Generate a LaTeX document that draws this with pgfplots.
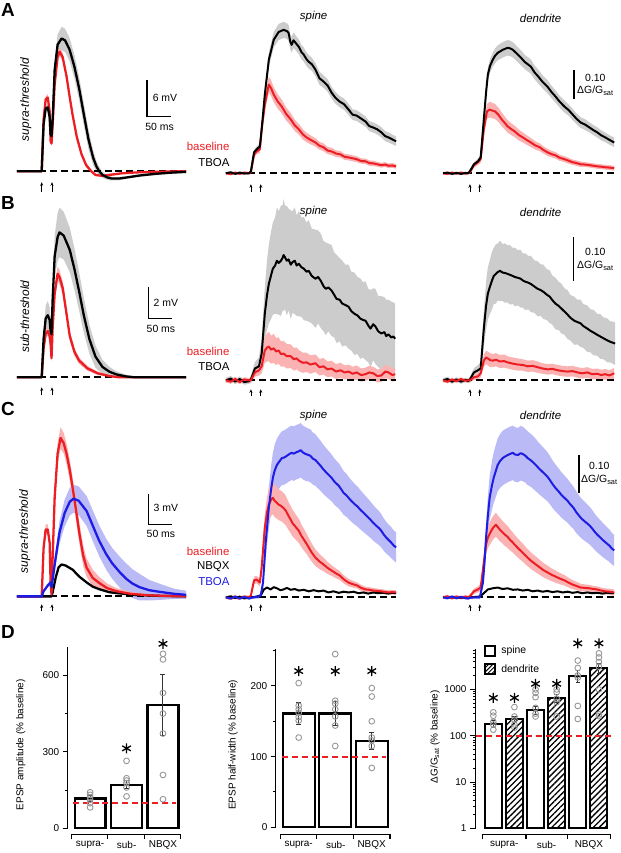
\documentclass[border=0pt]{standalone}
\usepackage{fontspec}
\setmainfont{Liberation Sans}
\usepackage{pgfplots}
\pgfplotsset{compat=1.18}
\usepackage{pgfplotstable}
\usepgfplotslibrary{fillbetween}
\usetikzlibrary{arrows.meta,patterns.meta}

\definecolor{myred}{RGB}{236,30,36}
\definecolor{pinkband}{RGB}{250,178,178}
\definecolor{greyband}{RGB}{204,204,204}
\definecolor{myblue}{RGB}{28,28,228}
\definecolor{blueband}{RGB}{186,186,246}
\definecolor{circ}{RGB}{150,150,150}

\newcommand\fs[1]{\fontsize{#1}{#1}\selectfont}
\newcommand\band[3]{%
  \addplot[name path=#3u, draw=none, forget plot] table[x=t, y expr=\thisrow{m}+\thisrow{e}] {#1};
  \addplot[name path=#3l, draw=none, forget plot] table[x=t, y expr=\thisrow{m}-\thisrow{e}] {#1};
  \addplot[fill=#2, draw=none, forget plot] fill between[of=#3u and #3l];
}
\newcommand\trace[3][2.3pt]{\addplot[#2, line width=#1, line join=round, no marks] table[x=t,y=m] {#3};}
\pgfplotsset{trace/.style={scale only axis, hide axis, clip=false, anchor=north west},
  bars/.style={scale only axis, anchor=north west, clip=false, axis y line*=left, axis x line=none,
    xtick=\empty, tick align=outside, major tick length=5pt, minor tick length=3pt,
    axis line style={line width=1.1pt}, every tick/.style={line width=1pt, black},
    yticklabel style={font=\fs{10}}}}

% ---------------- left traces (t in ms, V in mV) ----------------
\pgfplotstableread{
t m e
-53 0 0.1
-2 0 0.1
0 0 0.1
4 7.6 0.4
8.5 10.2 0.5
13 10.4 0.5
17 8.8 0.5
19 6.0 0.4
21 5.7 0.4
23.4 8.4 0.6
27.7 16.5 1.2
34 20.6 1.7
42.5 21.6 1.9
50 21.3 1.9
59.6 19.8 1.9
70 17.0 1.9
80 13.5 1.9
90 9.3 1.8
100 5.2 1.6
110 2.2 1.2
117 0.8 0.9
123 0 0.7
130 -0.6 0.5
140 -1.0 0.4
150 -1.2 0.3
165 -1.2 0.3
183 -1.0 0.2
209 -0.7 0.2
240 -0.45 0.2
272 -0.25 0.2
309 -0.1 0.2
}\tALk
\pgfplotstableread{
t m e
-53 0 0.1
-2 0 0.1
0 0 0.1
4 8.4 0.4
8.5 11.7 0.5
13 12.0 0.5
17 9.7 0.4
19 4.9 0.3
21 4.5 0.3
23.4 7.6 0.4
27.7 14.1 0.6
34 18.6 0.7
38.3 19.45 0.7
44.7 18.6 0.7
53 15.5 0.6
60 12.0 0.5
66 9.2 0.5
75 5.6 0.4
85 2.8 0.3
95 1.0 0.3
106 0 0.2
115 -0.6 0.2
129 -0.75 0.2
145 -0.6 0.2
170 -0.35 0.1
200 -0.2 0.1
240 -0.1 0.1
309 0 0.1
}\tALr
\pgfplotstableread{
t m e
-53 0 0.03
-2 0 0.03
0 0 0.05
4 2.4 0.4
8.5 3.7 0.8
13 3.9 0.9
17 3.6 0.8
19 2.9 0.6
21 2.7 0.5
23.4 4.9 0.8
27.7 7.6 1.3
34 8.8 1.5
38 9.1 1.55
47 8.9 1.5
60 8.0 1.4
70 6.8 1.3
80 5.4 1.2
90 3.9 1.1
102 2.4 0.9
115 1.3 0.7
130 0.65 0.45
145 0.35 0.3
160 0.18 0.2
180 0.06 0.1
200 0 0.05
309 0 0.05
}\tBLk
\pgfplotstableread{
t m e
-53 0 0.03
-2 0 0.03
0 0 0.05
4 1.8 0.2
8.5 2.75 0.3
13 2.9 0.3
17 2.6 0.3
19 2.1 0.2
21 1.2 0.2
23.4 3.1 0.3
27.7 5.25 0.4
34 6.5 0.45
38 6.3 0.45
45 5.6 0.4
53 4.0 0.35
60 2.6 0.3
70 1.6 0.25
80 1.05 0.2
98 0.56 0.15
120 0.25 0.1
145 0.08 0.05
166 0 0.03
309 0 0.03
}\tBLr
\pgfplotstableread{
t m e
-53 0 0.1
-2 0 0.1
0 0 0.1
4 4.7 0.4
8.5 6.5 0.5
13 6.5 0.5
17 5.2 0.4
19 1.35 0.2
21 0.2 0.1
23.4 3.8 0.5
27.7 9.6 0.9
34 13.9 1.0
40.4 15.4 1.05
47 14.9 1.0
53 13.9 1.0
60 12.3 1.0
66 10.6 1.0
74 8.2 1.0
81 6.0 1.0
89 3.9 1.0
96 2.8 0.9
109 1.8 0.8
123 1.3 0.6
140 0.8 0.45
160 0.5 0.3
190 0.25 0.2
230 0.1 0.1
309 0 0.1
}\tCLr
\pgfplotstableread{
t m e
-53 0 0.05
-2 0 0.05
0 0 0.05
4 0.5 0.1
13 1.06 0.2
19 1.35 0.25
21 0.9 0.2
23.4 1.65 0.3
30 3.8 0.7
38 6.2 1.1
49 8.1 1.3
60 9.2 1.35
68 9.5 1.36
79 9.3 1.4
96 8.3 1.45
109 6.9 1.5
123 5.4 1.5
138 4.1 1.5
151 3.2 1.5
166 2.4 1.5
181 1.7 1.5
194 1.25 1.4
209 0.9 1.3
230 0.6 1.0
251 0.45 0.8
283 0.25 0.5
309 0.15 0.4
}\tCLb
\pgfplotstableread{
t m
-53 0
0 0
21 0
23.4 0.4
30 1.84
36 2.8
42.5 3.1
51 3.0
66 2.6
81 1.9
96 1.36
109 0.95
123 0.7
145 0.4
166 0.3
198 0.15
250 0.05
309 0
}\tCLk

% ---------------- imaging traces (t in ms, dG/Gsat) ----------------
\pgfplotstableread{
t m e
-56 0.000 0.004
-45 0.003 0.004
-35 -0.002 0.004
-25 0.002 0.004
-15 -0.001 0.004
-4 0.000 0.004
0 0.007 0.005
7 0.070 0.010
13 0.080 0.010
20 0.090 0.012
24 0.147 0.015
31 0.263 0.020
40 0.380 0.024
51 0.447 0.026
62 0.473 0.027
73 0.480 0.027
80 0.476 0.026
84 0.470 0.027
88 0.440 0.026
91 0.430 0.026
95 0.445 0.026
98 0.440 0.025
107 0.423 0.025
113 0.405 0.024
118 0.397 0.024
124 0.382 0.023
129 0.373 0.023
136 0.365 0.022
144 0.347 0.022
153 0.318 0.022
162 0.307 0.021
171 0.294 0.021
180 0.270 0.020
189 0.252 0.020
198 0.240 0.019
208 0.231 0.019
218 0.213 0.019
227 0.196 0.018
236 0.193 0.018
246 0.183 0.018
256 0.173 0.017
264 0.158 0.017
273 0.153 0.017
282 0.147 0.017
291 0.137 0.017
300 0.124 0.017
307 0.120 0.017
316 0.113 0.016
324 0.107 0.016
}\tASk
\pgfplotstableread{
t m e
-56 0.000 0.004
-45 -0.003 0.004
-35 0.002 0.004
-25 -0.002 0.004
-15 0.002 0.004
-4 0.000 0.004
0 0.003 0.005
7 0.063 0.010
13 0.073 0.010
20 0.080 0.012
24 0.147 0.018
31 0.230 0.024
40 0.297 0.026
45 0.285 0.026
51 0.263 0.025
60 0.240 0.024
69 0.223 0.023
78 0.200 0.022
89 0.180 0.021
98 0.160 0.019
107 0.147 0.018
116 0.130 0.017
124 0.120 0.016
133 0.112 0.015
144 0.103 0.014
153 0.092 0.013
162 0.087 0.013
171 0.076 0.012
180 0.073 0.012
190 0.066 0.011
200 0.063 0.011
209 0.055 0.010
218 0.053 0.010
227 0.050 0.010
236 0.047 0.010
246 0.041 0.009
256 0.040 0.009
264 0.034 0.009
273 0.033 0.009
282 0.030 0.008
291 0.027 0.008
300 0.029 0.008
307 0.025 0.008
316 0.026 0.008
324 0.023 0.008
}\tASr
\pgfplotstableread{
t m e
-60 0.000 0.004
-50 0.002 0.004
-40 -0.002 0.004
-30 0.001 0.004
-20 -0.002 0.004
-10 0.001 0.004
-4 0.000 0.004
0 0.007 0.005
9 0.030 0.008
18 0.040 0.009
24 0.053 0.010
31 0.180 0.016
36 0.270 0.020
40 0.330 0.022
45 0.360 0.023
51 0.380 0.024
56 0.393 0.025
62 0.403 0.025
73 0.413 0.026
84 0.420 0.026
90 0.418 0.026
96 0.413 0.026
107 0.397 0.025
115 0.385 0.025
122 0.373 0.024
129 0.365 0.024
136 0.357 0.024
144 0.338 0.023
153 0.323 0.023
162 0.306 0.022
173 0.290 0.022
182 0.272 0.021
191 0.257 0.021
200 0.240 0.020
211 0.223 0.020
220 0.212 0.019
229 0.197 0.019
238 0.182 0.018
247 0.170 0.018
258 0.162 0.018
267 0.153 0.017
276 0.144 0.017
284 0.137 0.017
293 0.127 0.017
302 0.120 0.016
311 0.112 0.016
322 0.103 0.016
}\tADk
\pgfplotstableread{
t m e
-60 0.000 0.004
-50 -0.002 0.004
-40 0.002 0.004
-30 -0.001 0.004
-20 0.002 0.004
-10 -0.001 0.004
-4 0.000 0.004
0 0.003 0.005
9 0.027 0.008
18 0.037 0.009
24 0.047 0.012
31 0.147 0.020
38 0.207 0.025
44 0.213 0.026
50 0.210 0.026
56 0.207 0.025
64 0.195 0.024
71 0.180 0.023
78 0.168 0.022
84 0.157 0.021
92 0.148 0.020
100 0.140 0.019
109 0.128 0.018
118 0.120 0.017
127 0.111 0.016
136 0.103 0.015
146 0.093 0.014
156 0.087 0.013
164 0.078 0.012
173 0.070 0.012
182 0.064 0.011
191 0.060 0.011
200 0.052 0.010
211 0.047 0.010
220 0.042 0.010
229 0.037 0.009
238 0.034 0.009
247 0.030 0.009
258 0.029 0.008
267 0.027 0.008
276 0.025 0.008
284 0.023 0.008
293 0.022 0.008
302 0.020 0.008
311 0.019 0.008
322 0.017 0.008
}\tADr
\pgfplotstableread{
t m e
-56 0.000 0.006
-45 0.004 0.006
-35 -0.003 0.006
-25 0.003 0.006
-15 -0.004 0.006
-4 -0.002 0.006
0 0.002 0.008
9 0.027 0.015
18 0.032 0.020
24 0.061 0.035
31 0.152 0.060
36 0.195 0.080
40 0.220 0.090
45 0.240 0.100
49 0.255 0.105
54 0.262 0.110
58 0.273 0.122
62 0.268 0.118
67 0.273 0.126
71 0.280 0.120
73 0.286 0.128
76 0.281 0.118
80 0.273 0.125
84 0.276 0.116
89 0.264 0.124
93 0.270 0.116
98 0.273 0.122
102 0.262 0.115
107 0.266 0.120
113 0.258 0.113
118 0.255 0.118
124 0.248 0.112
129 0.250 0.116
136 0.238 0.108
144 0.232 0.112
150 0.236 0.106
156 0.227 0.108
162 0.215 0.103
167 0.209 0.106
173 0.212 0.100
180 0.205 0.104
186 0.195 0.097
191 0.186 0.101
198 0.184 0.095
204 0.175 0.098
211 0.172 0.092
218 0.168 0.096
224 0.158 0.090
231 0.152 0.094
238 0.148 0.088
244 0.141 0.092
250 0.138 0.086
256 0.136 0.090
262 0.125 0.084
267 0.118 0.088
273 0.128 0.082
278 0.123 0.086
284 0.112 0.081
291 0.107 0.085
298 0.110 0.080
302 0.101 0.083
307 0.105 0.079
313 0.098 0.082
318 0.100 0.078
322 0.095 0.080
}\tBSk
\pgfplotstableread{
t m e
-56 0.000 0.005
-45 -0.003 0.005
-35 0.003 0.005
-25 -0.004 0.005
-15 0.002 0.005
-4 0.000 0.005
0 0.000 0.006
9 0.018 0.010
18 0.023 0.012
24 0.032 0.016
31 0.068 0.028
36 0.075 0.032
40 0.077 0.034
45 0.070 0.032
51 0.073 0.033
56 0.066 0.031
62 0.068 0.030
67 0.060 0.029
73 0.061 0.029
80 0.055 0.028
89 0.055 0.027
96 0.048 0.026
102 0.050 0.025
107 0.045 0.024
116 0.040 0.023
124 0.041 0.022
133 0.036 0.021
144 0.039 0.020
153 0.030 0.019
162 0.032 0.019
171 0.025 0.018
180 0.027 0.018
190 0.020 0.017
200 0.023 0.017
209 0.018 0.016
218 0.020 0.016
227 0.015 0.016
236 0.018 0.016
246 0.012 0.015
256 0.014 0.015
264 0.018 0.015
273 0.016 0.015
282 0.010 0.015
291 0.011 0.015
300 0.020 0.015
307 0.018 0.015
316 0.012 0.015
322 0.014 0.015
}\tBSr
\pgfplotstableread{
t m e
-60 0.000 0.005
-50 0.003 0.005
-40 -0.003 0.005
-30 0.002 0.005
-20 -0.003 0.005
-10 0.001 0.005
-4 -0.002 0.005
0 0.002 0.006
9 0.018 0.010
18 0.023 0.012
24 0.027 0.015
31 0.118 0.040
36 0.170 0.055
40 0.198 0.060
45 0.215 0.062
49 0.227 0.066
53 0.238 0.064
58 0.243 0.068
62 0.247 0.065
67 0.250 0.069
73 0.246 0.065
78 0.245 0.068
84 0.243 0.065
89 0.241 0.068
96 0.238 0.064
100 0.236 0.067
107 0.234 0.063
113 0.232 0.066
118 0.228 0.062
124 0.225 0.065
130 0.223 0.061
136 0.220 0.064
144 0.214 0.060
151 0.209 0.063
158 0.206 0.059
164 0.202 0.062
171 0.196 0.058
178 0.191 0.060
184 0.183 0.056
191 0.175 0.059
198 0.170 0.055
204 0.164 0.057
211 0.157 0.053
218 0.150 0.056
224 0.143 0.052
233 0.136 0.055
240 0.133 0.051
247 0.130 0.054
253 0.124 0.050
262 0.118 0.053
269 0.113 0.049
276 0.109 0.052
284 0.104 0.048
291 0.100 0.051
298 0.096 0.048
307 0.091 0.050
313 0.088 0.047
324 0.084 0.049
}\tBDk
\pgfplotstableread{
t m e
-60 0.000 0.004
-50 -0.003 0.004
-40 0.002 0.004
-30 -0.002 0.004
-20 0.003 0.004
-10 -0.001 0.004
-4 0.000 0.004
0 0.000 0.005
9 0.007 0.006
18 0.009 0.007
24 0.016 0.009
31 0.045 0.014
36 0.052 0.015
40 0.050 0.016
45 0.046 0.016
51 0.045 0.015
58 0.047 0.015
67 0.043 0.015
76 0.044 0.015
84 0.041 0.014
96 0.038 0.014
107 0.036 0.014
118 0.035 0.013
129 0.032 0.013
140 0.033 0.013
151 0.030 0.013
162 0.027 0.012
173 0.025 0.012
184 0.026 0.012
196 0.023 0.012
207 0.021 0.012
218 0.020 0.012
229 0.021 0.012
240 0.018 0.012
251 0.016 0.012
262 0.018 0.012
273 0.014 0.012
284 0.015 0.012
293 0.012 0.012
302 0.014 0.012
311 0.011 0.012
322 0.016 0.012
}\tBDr
\pgfplotstableread{
t m e
-56 0.000 0.004
-45 -0.003 0.004
-35 0.002 0.004
-27 -0.003 0.004
-15 0.002 0.004
-4 0.000 0.004
0 0.005 0.005
7 0.045 0.010
13 0.047 0.010
20 0.039 0.010
24 0.079 0.020
31 0.184 0.035
36 0.225 0.040
40 0.245 0.042
45 0.258 0.043
49 0.263 0.043
53 0.255 0.043
58 0.250 0.042
62 0.245 0.041
67 0.242 0.040
73 0.236 0.040
78 0.229 0.039
84 0.215 0.037
89 0.205 0.036
93 0.196 0.035
98 0.189 0.034
102 0.183 0.033
107 0.176 0.032
113 0.162 0.030
118 0.153 0.029
124 0.142 0.027
129 0.132 0.026
136 0.118 0.024
144 0.105 0.022
153 0.095 0.020
162 0.087 0.018
171 0.078 0.016
180 0.071 0.014
189 0.064 0.013
198 0.058 0.012
208 0.047 0.011
218 0.039 0.010
227 0.035 0.009
236 0.032 0.008
246 0.025 0.008
256 0.021 0.007
264 0.020 0.007
273 0.018 0.007
282 0.017 0.006
291 0.016 0.006
300 0.014 0.006
307 0.013 0.006
316 0.014 0.006
324 0.013 0.006
}\tCSr
\pgfplotstableread{
t m e
-56 0.000 0.004
-45 -0.003 0.004
-35 0.002 0.004
-25 -0.003 0.004
-15 0.001 0.004
-4 -0.003 0.004
0 -0.001 0.004
10 0.001 0.004
18 0.002 0.005
22 0.005 0.006
27 0.039 0.015
33 0.145 0.040
40 0.237 0.055
45 0.285 0.062
49 0.316 0.066
53 0.335 0.068
58 0.350 0.070
64 0.360 0.071
69 0.368 0.071
75 0.370 0.072
80 0.374 0.072
86 0.379 0.072
91 0.382 0.072
96 0.380 0.072
102 0.384 0.072
107 0.386 0.072
111 0.389 0.072
116 0.383 0.071
122 0.379 0.071
127 0.377 0.070
133 0.374 0.070
138 0.367 0.069
144 0.363 0.068
150 0.355 0.067
156 0.347 0.066
162 0.338 0.065
169 0.329 0.064
175 0.322 0.063
180 0.316 0.062
187 0.305 0.061
196 0.295 0.060
202 0.285 0.059
207 0.276 0.058
213 0.270 0.057
218 0.263 0.056
224 0.255 0.055
231 0.247 0.054
238 0.240 0.053
244 0.232 0.052
250 0.225 0.051
256 0.218 0.050
262 0.211 0.049
267 0.205 0.048
273 0.197 0.047
280 0.189 0.046
286 0.183 0.045
291 0.176 0.044
296 0.167 0.043
302 0.158 0.042
307 0.152 0.041
313 0.145 0.041
318 0.138 0.040
324 0.132 0.040
}\tCSb
\pgfplotstableread{
t m
-56 0.000
-45 0.003
-35 -0.002
-25 0.002
-15 -0.003
-4 0.000
0 0.000
10 0.001
22 0.005
29 0.021
36 0.026
44 0.021
51 0.027
58 0.024
66 0.019
73 0.021
80 0.025
89 0.020
98 0.022
107 0.018
118 0.020
129 0.016
140 0.019
151 0.016
162 0.018
173 0.013
184 0.016
196 0.012
207 0.015
218 0.013
229 0.015
240 0.011
251 0.013
262 0.010
273 0.013
284 0.011
296 0.012
307 0.010
316 0.012
324 0.011
}\tCSk
\pgfplotstableread{
t m e
-60 0.000 0.004
-50 0.002 0.004
-40 -0.002 0.004
-30 0.002 0.004
-20 -0.001 0.004
-10 0.002 0.004
-4 0.000 0.004
0 0.003 0.005
9 0.016 0.007
18 0.021 0.008
24 0.026 0.010
31 0.092 0.020
36 0.140 0.026
40 0.158 0.028
45 0.170 0.030
49 0.179 0.031
53 0.186 0.031
58 0.192 0.032
62 0.186 0.031
67 0.179 0.031
73 0.172 0.030
78 0.166 0.030
84 0.160 0.029
89 0.153 0.028
95 0.146 0.027
100 0.139 0.026
109 0.128 0.025
118 0.118 0.024
127 0.107 0.023
136 0.097 0.022
146 0.088 0.021
156 0.079 0.020
164 0.072 0.019
173 0.066 0.018
182 0.060 0.017
191 0.055 0.016
200 0.050 0.015
211 0.045 0.014
220 0.039 0.013
229 0.034 0.012
238 0.030 0.011
247 0.026 0.010
258 0.025 0.009
267 0.024 0.009
276 0.022 0.008
284 0.021 0.008
293 0.018 0.008
302 0.016 0.008
311 0.015 0.008
322 0.013 0.008
}\tCDr
\pgfplotstableread{
t m e
-60 0.000 0.004
-50 -0.002 0.004
-40 0.002 0.004
-30 -0.002 0.004
-20 0.001 0.004
-10 -0.002 0.004
-4 -0.003 0.004
0 -0.001 0.004
10 0.000 0.004
22 0.000 0.005
29 0.039 0.015
33 0.100 0.030
36 0.158 0.040
40 0.215 0.050
44 0.263 0.058
49 0.295 0.064
53 0.316 0.067
58 0.335 0.069
62 0.350 0.070
67 0.360 0.071
73 0.368 0.072
78 0.372 0.072
84 0.376 0.072
89 0.379 0.072
96 0.382 0.072
100 0.378 0.072
107 0.376 0.072
113 0.381 0.072
118 0.379 0.072
124 0.374 0.071
129 0.368 0.071
134 0.364 0.070
140 0.358 0.070
147 0.350 0.069
153 0.342 0.068
160 0.334 0.067
167 0.326 0.066
173 0.319 0.065
178 0.311 0.064
184 0.300 0.063
191 0.289 0.062
198 0.280 0.061
204 0.271 0.060
211 0.263 0.059
218 0.255 0.058
224 0.246 0.057
231 0.237 0.056
238 0.224 0.055
247 0.211 0.053
253 0.204 0.052
260 0.197 0.051
267 0.190 0.050
273 0.182 0.049
278 0.174 0.048
284 0.166 0.047
291 0.158 0.046
298 0.150 0.045
304 0.144 0.044
311 0.137 0.043
316 0.130 0.042
322 0.124 0.041
}\tCDb
\pgfplotstableread{
t m
-60 0.000
-50 0.002
-40 -0.002
-30 0.001
-20 -0.002
-10 0.001
-4 0.000
0 0.000
22 0.002
31 0.011
40 0.021
51 0.024
62 0.026
73 0.022
84 0.024
96 0.020
107 0.021
118 0.018
129 0.020
140 0.016
151 0.018
162 0.015
173 0.017
184 0.014
196 0.016
207 0.013
218 0.015
229 0.012
240 0.014
251 0.011
262 0.013
273 0.011
284 0.012
296 0.010
307 0.012
322 0.011
}\tCDk

\newcommand\stim[3]{% t, from, to (pt below baseline)
  \draw[-{Stealth[length=3.6pt,width=3pt]}, line width=0.8pt] ([yshift=-#2pt]axis cs:#1,0) -- ([yshift=-#3pt]axis cs:#1,0);}
\newcommand\dashbase[2]{\addplot[black, line width=2pt, dash pattern=on 7pt off 4pt, forget plot] coordinates {(#1,0) (#2,0)};}

\begin{document}
\begin{tikzpicture}

\begin{scope}[x=1pt,y=-1pt]
% ---------- panel letters and side labels ----------
\node[anchor=north west, inner sep=0pt, font=\fs{19}\bfseries] at (1,3) {A};
\node[anchor=north west, inner sep=0pt, font=\fs{19}\bfseries] at (1,197) {B};
\node[anchor=north west, inner sep=0pt, font=\fs{19}\bfseries] at (1,404) {C};
\node[anchor=north west, inner sep=0pt, font=\fs{19}\bfseries] at (1,628) {D};
\node[rotate=90, font=\fs{12}\itshape] at (26,100) {supra-threshold};
\node[rotate=90, font=\fs{12}\itshape] at (25,318) {sub-threshold};
\node[rotate=90, font=\fs{12}\itshape] at (25,534) {supra-threshold};
\node[font=\fs{11.5}\itshape] at (315,17) {spine};
\node[font=\fs{11.5}\itshape] at (315,212) {spine};
\node[font=\fs{11.5}\itshape] at (315,417) {spine};
\node[font=\fs{11.5}\itshape] at (543,18) {dendrite};
\node[font=\fs{11.5}\itshape] at (543,213) {dendrite};
\node[font=\fs{11.5}\itshape] at (543,417) {dendrite};
% legends
\node[anchor=east, font=\fs{11.5}, text=myred] at (234,147) {baseline};
\node[anchor=east, font=\fs{11.5}] at (234,163) {TBOA};
\node[anchor=east, font=\fs{11.5}, text=myred] at (234,353) {baseline};
\node[anchor=east, font=\fs{11.5}] at (234,368) {TBOA};
\node[anchor=east, font=\fs{11.5}, text=myred] at (234,554) {baseline};
\node[anchor=east, font=\fs{11.5}] at (234,569) {NBQX};
\node[anchor=east, font=\fs{11.5}, text=myblue] at (234,584) {TBOA};
% imaging scale texts
\node[font=\fs{10.5}] at (598,78) {0.10};
\node[font=\fs{10.5}] at (598,91) {ΔG/G\textsubscript{sat}};
\node[font=\fs{10.5}] at (598,253) {0.10};
\node[font=\fs{10.5}] at (598,267) {ΔG/G\textsubscript{sat}};
\node[font=\fs{10.5}] at (602,468) {0.10};
\node[font=\fs{10.5}] at (602,482) {ΔG/G\textsubscript{sat}};
% D axis labels and category axes
\node[rotate=90, font=\fs{10}] at (21,748) {EPSP amplitude (\% baseline)};
\draw[line width=1.1pt] (71.7,843) -- (71.7,838) -- (181.7,838) -- (181.7,843);
\draw[line width=1.1pt] (108.3,838) -- (108.3,843) (145,838) -- (145,843);
\node[font=\fs{10}] at (90.5,849) {supra-};
\node[font=\fs{10}] at (127.2,849) {sub-};
\node[font=\fs{10}] at (163.7,849) {NBQX};
\node[rotate=90, font=\fs{10}] at (234,748) {EPSP half-width (\% baseline)};
\draw[line width=1.1pt] (281.7,843) -- (281.7,838) -- (391.7,838) -- (391.7,843);
\draw[line width=1.1pt] (318.3,838) -- (318.3,843) (355,838) -- (355,843);
\node[font=\fs{10}] at (300,849) {supra-};
\node[font=\fs{10}] at (337.2,849) {sub-};
\node[font=\fs{10}] at (373.3,849) {NBQX};
\node[rotate=90, font=\fs{10}] at (437,740) {ΔG/G\textsubscript{sat} (\% baseline)};
\draw[line width=1.1pt] (485,843) -- (485,838) -- (613.3,838) -- (613.3,843);
\draw[line width=1.1pt] (528.3,838) -- (528.3,843) (570,838) -- (570,843);
\node[font=\fs{10}] at (506.5,849) {supra-};
\node[font=\fs{10}] at (549,849) {sub-};
\node[font=\fs{10}] at (591.5,849) {NBQX};
\end{scope}

% ================= A left =================
\begin{axis}[trace, at={(17pt,-25pt)}, width=170pt, height=165pt, xmin=-53, xmax=309, ymin=-2.92, ymax=23.82]
\band{\tALk}{greyband}{ak}
\band{\tALr}{pinkband}{ar}
\dashbase{-53}{309}
\trace{myred}{\tALr}
\trace{black}{\tALk}
\stim{0}{21}{11}\stim{22}{21}{11}
\draw[line width=1.3pt] (axis cs:225.5,14.9) -- (axis cs:225.5,8.9) -- (axis cs:275.5,8.9);
\node[anchor=west, font=\fs{10.5}] at (axis cs:230,11.9) {6 mV};
\node[anchor=north, font=\fs{10.5}] at ([yshift=-3pt]axis cs:252,8.9) {50 ms};
\end{axis}
% ================= A spine =================
\begin{axis}[trace, at={(227pt,-20pt)}, width=171pt, height=170pt, xmin=-55.6, xmax=324.4, ymin=-0.0533, ymax=0.5133]
\band{\tASk}{greyband}{ask}
\band{\tASr}{pinkband}{asr}
\dashbase{-55}{324}
\trace[2pt]{myred}{\tASr}
\trace[2pt]{black}{\tASk}
\stim{0}{19}{11}\stim{22}{19}{11}
\end{axis}
% ================= A dendrite =================
\begin{axis}[trace, at={(445pt,-20pt)}, width=172pt, height=170pt, xmin=-60, xmax=322.2, ymin=-0.0533, ymax=0.5133]
\band{\tADk}{greyband}{adk}
\band{\tADr}{pinkband}{adr}
\dashbase{-60}{322}
\trace[2pt]{myred}{\tADr}
\trace[2pt]{black}{\tADk}
\stim{0}{19}{11}\stim{22}{19}{11}
\draw[line width=1.8pt] (axis cs:233,0.247) -- (axis cs:233,0.347);
\end{axis}

% ================= B left =================
\begin{axis}[trace, at={(17pt,-200pt)}, width=170pt, height=192pt, xmin=-53, xmax=309, ymin=-0.8125, ymax=11.1875]
\band{\tBLk}{greyband}{bk}
\band{\tBLr}{pinkband}{br}
\dashbase{-53}{309}
\trace{myred}{\tBLr}
\trace{black}{\tBLk}
\stim{0}{18}{10}\stim{22}{18}{10}
\draw[line width=1.3pt] (axis cs:227.7,5.69) -- (axis cs:227.7,3.69) -- (axis cs:277.7,3.69);
\node[anchor=west, font=\fs{10.5}] at (axis cs:232,4.69) {2 mV};
\node[anchor=north, font=\fs{10.5}] at ([yshift=-3pt]axis cs:255,3.69) {50 ms};
\end{axis}
% ================= B spine =================
\begin{axis}[trace, at={(227pt,-200pt)}, width=171pt, height=195pt, xmin=-55.6, xmax=324.4, ymin=-0.02955, ymax=0.41364]
\band{\tBSk}{greyband}{bsk}
\band{\tBSr}{pinkband}{bsr}
\dashbase{-55}{324}
\trace[2pt]{black}{\tBSk}
\trace[2pt]{myred}{\tBSr}
\stim{0}{16}{9}\stim{22}{16}{9}
\end{axis}
% ================= B dendrite =================
\begin{axis}[trace, at={(445pt,-200pt)}, width=172pt, height=195pt, xmin=-60, xmax=322.2, ymin=-0.02955, ymax=0.41364]
\band{\tBDk}{greyband}{bdk}
\band{\tBDr}{pinkband}{bdr}
\dashbase{-60}{322}
\trace[2pt]{black}{\tBDk}
\trace[2pt]{myred}{\tBDr}
\stim{0}{16}{9}\stim{22}{16}{9}
\draw[line width=1.8pt] (axis cs:231,0.227) -- (axis cs:231,0.327);
\end{axis}

% ================= C left =================
\begin{axis}[trace, at={(17pt,-425pt)}, width=170pt, height=187pt, xmin=-53, xmax=309, ymin=-1.258, ymax=16.843]
\band{\tCLb}{blueband}{cb}
\band{\tCLr}{pinkband}{cr}
\dashbase{-53}{309}
\trace{black}{\tCLk}
\trace{myred}{\tCLr}
\trace{myblue}{\tCLb}
\stim{0}{15}{8}\stim{22}{15}{8}
\draw[line width=1.3pt] (axis cs:227.7,9.97) -- (axis cs:227.7,6.97) -- (axis cs:277.7,6.97);
\node[anchor=west, font=\fs{10.5}] at (axis cs:232,8.6) {3 mV};
\node[anchor=north, font=\fs{10.5}] at ([yshift=-2pt]axis cs:255,6.97) {50 ms};
\end{axis}
% ================= C spine =================
\begin{axis}[trace, at={(227pt,-415pt)}, width=171pt, height=197pt, xmin=-55.6, xmax=324.4, ymin=-0.03158, ymax=0.48684]
\band{\tCSb}{blueband}{csb}
\band{\tCSr}{pinkband}{csr}
\dashbase{-55}{324}
\trace[2pt]{black}{\tCSk}
\trace[2pt]{myred}{\tCSr}
\trace[2pt]{myblue}{\tCSb}
\stim{0}{14}{7}\stim{22}{14}{7}
\end{axis}
% ================= C dendrite =================
\begin{axis}[trace, at={(445pt,-415pt)}, width=172pt, height=197pt, xmin=-60, xmax=322.2, ymin=-0.03158, ymax=0.48684]
\band{\tCDb}{blueband}{cdb}
\band{\tCDr}{pinkband}{cdr}
\dashbase{-60}{322}
\trace[2pt]{black}{\tCDk}
\trace[2pt]{myred}{\tCDr}
\trace[2pt]{myblue}{\tCDb}
\stim{0}{14}{7}\stim{22}{14}{7}
\draw[line width=1.8pt] (axis cs:244,0.276) -- (axis cs:244,0.376);
\end{axis}

% ================= D left: amplitude =================
\begin{axis}[bars, at={(68pt,-650pt)}, width=114pt, height=182pt, xmin=-0.615, xmax=2.5, ymin=0, ymax=709,
  ytick={0,300,600}, yticklabels={0,300,600}, minor ytick={150,450}]
\addplot[ybar, bar width=31pt, fill=white, draw=black, line width=2.2pt] coordinates {(0,117) (1,171) (2,483)};
\addplot[myred, line width=2pt, dash pattern=on 6pt off 4pt] coordinates {(-0.48,100) (2.37,100)};
\addplot[draw=none, mark=none, error bars/.cd, y dir=both, y explicit, error bar style={line width=1pt, black!80}, error mark options={rotate=90, mark size=2.5pt, line width=1pt, black!80}]
  coordinates {(0,117) +- (0,10) (1,171) +- (0,16) (2,483) +- (0,118)};
\addplot[only marks, mark=o, mark size=2.9pt, circ, mark options={line width=0.9pt}] coordinates {
 (0,141) (0,131) (0,122) (0,112) (0,99) (0,82)
 (1,264) (1,196) (1,187) (1,177) (1,160) (1,125)
 (2,683) (2,661) (2,530) (2,449) (2,371) (2,209) (2,114)};
\addplot[only marks, mark=asterisk, mark size=5pt, black, mark options={line width=1.3pt}] coordinates {(1,313) (2,722)};
\end{axis}

% ================= D middle: half-width =================
\begin{axis}[bars, at={(277pt,-652pt)}, width=115pt, height=179pt, xmin=-0.627, xmax=2.506, ymin=0, ymax=252,
  ytick={0,100,200}, yticklabels={0,100,200}, minor ytick={50,150,250}]
\addplot[ybar, bar width=32pt, fill=white, draw=black, line width=2.2pt] coordinates {(0,161) (1,161) (2,122)};
\addplot[myred, line width=2pt, dash pattern=on 6pt off 4pt] coordinates {(-0.45,100) (2.4,100)};
\addplot[draw=none, mark=none, error bars/.cd, y dir=both, y explicit, error bar style={line width=1pt, black!80}, error mark options={rotate=90, mark size=2.5pt, line width=1pt, black!80}]
  coordinates {(0,161) +- (0,16) (1,161) +- (0,17) (2,122) +- (0,12)};
\addplot[only marks, mark=o, mark size=2.9pt, circ, mark options={line width=0.9pt}] coordinates {
 (0,204) (0,172) (0,167) (0,162) (0,156) (0,151) (0,127)
 (1,245) (1,179) (1,175) (1,167) (1,157) (1,144) (1,115)
 (2,197) (2,185) (2,150) (2,127) (2,123) (2,115) (2,84)};
\addplot[only marks, mark=asterisk, mark size=5pt, black, mark options={line width=1.3pt}] coordinates {(0,221) (1,221) (2,221)};
\end{axis}

% ================= D right: dG/Gsat =================
\begin{axis}[bars, at={(478pt,-652pt)}, width=135pt, height=180pt, xmin=-0.825, xmax=5.54, ymode=log, ymin=1, ymax=7400,
  ytick={1,10,100,1000}, yticklabels={1,10,100,1000}, major tick length=6pt,
  minor ytick={2,3,4,5,6,7,8,9,20,30,40,50,60,70,80,90,200,300,400,500,600,700,800,900,2000,3000,4000,5000,6000,7000}]
\addplot[ybar, bar width=17pt, fill=white, draw=black, line width=2pt] coordinates {(0,182) (2,352) (4,1986)};
\addplot[ybar, bar width=17pt, fill=white, draw=black, line width=2pt, postaction={pattern={Lines[angle=45,distance=4.2pt,line width=1.3pt]}}] coordinates {(1,226) (3,657) (5,2851)};
\addplot[myred, line width=2pt, dash pattern=on 6pt off 4pt] coordinates {(-0.82,100) (5.55,100)};
\addplot[draw=none, mark=none, error bars/.cd, y dir=both, y explicit, error bar style={line width=1pt, black!80}, error mark options={rotate=90, mark size=2.2pt, line width=1pt, black!80}]
  coordinates {(0,182) +- (0,30) (1,226) +- (0,35) (2,352) +- (0,70) (3,657) +- (0,130) (4,1986) +- (0,600) (5,2851) +- (0,700)};
\addplot[only marks, mark=o, mark size=2.9pt, circ, mark options={line width=0.9pt}] coordinates {
 (0,320) (0,270) (0,200) (0,175) (0,135)
 (1,415) (1,260) (1,220) (1,175) (1,150)
 (2,1000) (2,840) (2,680) (2,400) (2,300) (2,260)
 (3,1000) (3,870) (3,630) (3,530) (3,260)
 (4,4200) (4,2900) (4,2000) (4,1800) (4,440) (4,230)
 (5,6000) (5,4900) (5,3900) (5,3100) (5,1000) (5,290) (5,265)};
\addplot[only marks, mark=asterisk, mark size=5pt, black, mark options={line width=1.3pt}] coordinates {(0,657) (1,657) (2,1320) (3,1320) (4,9900) (5,9900)};
\end{axis}

\begin{scope}[x=1pt,y=-1pt]
% legend of D right
\draw[line width=1.5pt, fill=white] (487,649) rectangle (497,659);
\node[anchor=west, font=\fs{10.5}] at (500,654) {spine};
\draw[line width=1.5pt, fill=white, postaction={pattern={Lines[angle=45,distance=3pt,line width=0.9pt]}}] (487,667) rectangle (497,677);
\node[anchor=west, font=\fs{10.5}] at (500,672) {dendrite};
\useasboundingbox (0,0) rectangle (621,853);
\end{scope}
\end{tikzpicture}
\end{document}
